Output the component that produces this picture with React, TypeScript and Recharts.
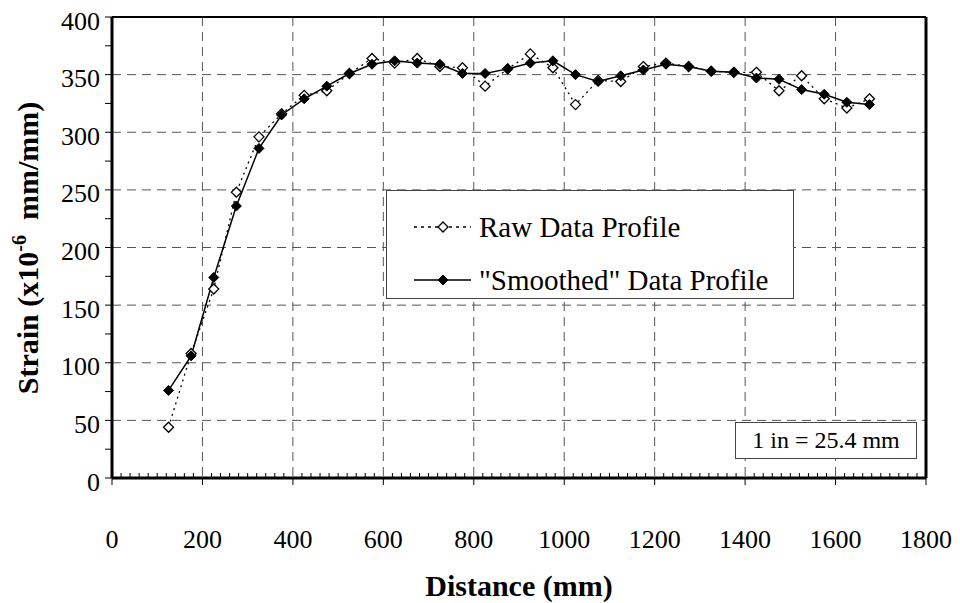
import { CartesianGrid, Legend, Line, LineChart, ReferenceLine, XAxis, YAxis } from "recharts";

const distance = [
  125, 175, 225, 275, 325, 375, 425, 475, 525, 575, 625, 675, 725, 775, 825, 875,
  925, 975, 1025, 1075, 1125, 1175, 1225, 1275, 1325, 1375, 1425, 1475, 1525, 1575, 1625, 1675,
];
const rawStrain = [
  44, 108, 164, 248, 296, 316, 332, 336, 351, 364, 360, 364, 357, 356, 340, 355,
  368, 356, 324, 345, 344, 357, 360, 357, 353, 352, 352, 336, 349, 329, 321, 329,
];
const smoothedStrain = [
  76, 106, 174, 236, 286, 315, 329, 340, 351, 359, 362, 360, 359, 351, 351, 355,
  360, 362, 350, 344, 349, 354, 359, 357, 353, 352, 347, 346, 337, 333, 326, 324,
];
const xLabels = [0, 200, 400, 600, 800, 1000, 1200, 1400, 1600, 1800];
const yLabels = [0, 50, 100, 150, 200, 250, 300, 350, 400];

// minor ticks: every 20 mm on x, every 25 on y
const xTicks = Array.from({ length: 91 }, (_, i) => i * 20);
const yTicks = Array.from({ length: 17 }, (_, i) => i * 25);

const data = distance.map((d, i) => ({ distance: d, raw: rawStrain[i], smoothed: smoothedStrain[i] }));

const FONT = '"Liberation Serif", "Times New Roman", serif';

const diamond = (cx: number, cy: number, r: number) =>
  `M${cx},${cy - r}L${cx + r},${cy}L${cx},${cy + r}L${cx - r},${cy}Z`;

const XTick = (props: any) => {
  const { x, y, payload } = props;
  const major = xLabels.includes(payload.value);
  return (
    <g>
      {major ? (
        <line x1={x} x2={x} y1={y} y2={y + 7} stroke="#000" strokeWidth={1} />
      ) : (
        <line x1={x} x2={x} y1={y} y2={y - 5} stroke="#000" strokeWidth={1} />
      )}
      {major && (
        <text x={x} y={y + 61} textAnchor="middle" dominantBaseline="central" fontFamily={FONT} fontSize={26} fill="#000">
          {payload.value}
        </text>
      )}
    </g>
  );
};

const YTick = (props: any) => {
  const { x, y, payload } = props;
  const major = yLabels.includes(payload.value);
  return (
    <g>
      <line x1={x - 7} x2={x} y1={y} y2={y} stroke="#000" strokeWidth={1} />
      {major && (
        <text x={x - 12} y={y + 4} textAnchor="end" dominantBaseline="central" fontFamily={FONT} fontSize={26} fill="#000">
          {payload.value}
        </text>
      )}
    </g>
  );
};

const YTitle = () => (
  <text
    transform="translate(38,248) rotate(-90)"
    textAnchor="middle"
    fontFamily={FONT}
    fontSize={30}
    fontWeight="bold"
    fill="#000"
  >
    Strain (x10
    <tspan dy={-12} fontSize={20}>-6</tspan>
    <tspan dy={12}>{"\u00a0 mm/mm)"}</tspan>
  </text>
);

const XTitle = () => (
  <text x={519} y={596} textAnchor="middle" fontFamily={FONT} fontSize={30} fontWeight="bold" fill="#000">
    Distance (mm)
  </text>
);

const LegendBox = () => (
  <svg width={408} height={109} style={{ display: "block", background: "#fff", border: "1px solid #444", boxSizing: "border-box" }}>
    <line x1={27} x2={84} y1={36} y2={36} stroke="#000" strokeWidth={1.3} strokeDasharray="3 4" />
    <path d={diamond(56, 36, 5)} fill="#fff" stroke="#000" strokeWidth={1.3} />
    <text x={92} y={36} dominantBaseline="central" fontFamily={FONT} fontSize={29} fill="#000">
      Raw Data Profile
    </text>
    <line x1={27} x2={84} y1={89} y2={89} stroke="#000" strokeWidth={1.5} />
    <path d={diamond(56, 89, 5)} fill="#000" stroke="#000" />
    <text x={92} y={89} dominantBaseline="central" fontFamily={FONT} fontSize={29} fill="#000">
      "Smoothed" Data Profile
    </text>
  </svg>
);

const App = () => {
  return (
    <div style={{ position: "absolute", left: 0, top: 0, width: 960, height: 603, background: "#fff" }}>
      <LineChart width={960} height={603} data={data} margin={{ top: 17, right: 34, bottom: 0, left: 0 }}>
        <CartesianGrid
          stroke="#555"
          strokeDasharray="9 6"
          verticalValues={xLabels}
          horizontalValues={yLabels}
        />
        <XAxis
          dataKey="distance"
          type="number"
          domain={[0, 1800]}
          ticks={xTicks}
          interval={0}
          height={125}
          tickSize={0}
          tickMargin={0}
          tickLine={false}
          tick={(p: any) => <XTick {...p} />}
          axisLine={{ stroke: "#000", strokeWidth: 3 }}
          label={<XTitle />}
        />
        <YAxis
          type="number"
          domain={[0, 400]}
          ticks={yTicks}
          interval={0}
          width={112}
          tickSize={0}
          tickMargin={0}
          tickLine={false}
          tick={(p: any) => <YTick {...p} />}
          axisLine={{ stroke: "#000", strokeWidth: 3 }}
          label={<YTitle />}
        />
        <ReferenceLine y={400} stroke="#000" strokeWidth={2} />
        <ReferenceLine x={1800} stroke="#000" strokeWidth={3} />
        <Legend
          layout="vertical"
          align="center"
          verticalAlign="middle"
          wrapperStyle={{ left: 386, top: 190, width: 408, height: 109 }}
          content={() => <LegendBox />}
        />
        <Line
          dataKey="raw"
          stroke="#000"
          strokeWidth={1.3}
          strokeDasharray="2 4"
          isAnimationActive={false}
          dot={(p: any) => <path key={`r${p.index}`} d={diamond(p.cx, p.cy, 5)} fill="#fff" stroke="#000" strokeWidth={1.3} />}
          activeDot={false}
        />
        <Line
          dataKey="smoothed"
          stroke="#000"
          strokeWidth={1.5}
          isAnimationActive={false}
          dot={(p: any) => <path key={`s${p.index}`} d={diamond(p.cx, p.cy, 5)} fill="#000" stroke="#000" />}
          activeDot={false}
        />
      </LineChart>
      <div
        style={{
          position: "absolute",
          left: 735,
          top: 422,
          width: 182,
          height: 37,
          boxSizing: "border-box",
          border: "1px solid #444",
          background: "#fff",
          fontFamily: FONT,
          fontSize: 24,
          lineHeight: "35px",
          textAlign: "center",
          color: "#000",
        }}
      >
        1 in = 25.4 mm
      </div>
    </div>
  );
};

export default App;
